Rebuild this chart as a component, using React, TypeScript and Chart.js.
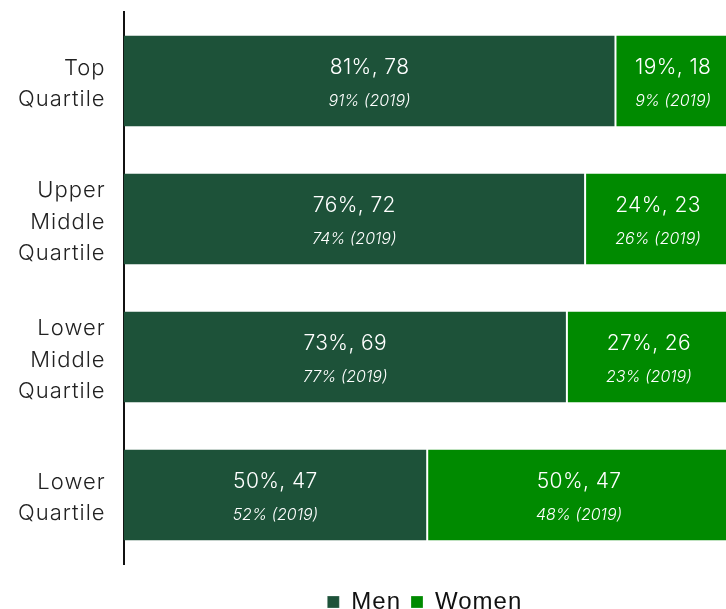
import React, { useEffect, useRef } from "react";
import { Chart, registerables } from "chart.js";

Chart.register(...registerables);

const categories: string[][] = [
  ["Top", "Quartile"],
  ["Upper", "Middle", "Quartile"],
  ["Lower", "Middle", "Quartile"],
  ["Lower", "Quartile"],
];
const menPct = [81, 76, 73, 50];
const womenPct = [19, 24, 27, 50];
const menCount = [78, 72, 69, 47];
const womenCount = [18, 23, 26, 47];
const men2019 = [91, 74, 77, 52];
const women2019 = [9, 26, 23, 48];

const MEN_COLOR = "#1d5239";
const WOMEN_COLOR = "#008a00";
const LABEL_FONT = "Inter";

const spacingPlugin = {
  id: "spacing",
  beforeLayout(chart: any) {
    chart.ctx.letterSpacing = "1px";
  },
  beforeDraw(chart: any) {
    chart.ctx.letterSpacing = "1px";
  },
  beforeDatasetsDraw(chart: any) {
    chart.ctx.letterSpacing = "0px";
  },
};

const labelPlugin = {
  id: "barLabels",
  afterDatasetsDraw(chart: any) {
    const ctx = chart.ctx;
    const sets = [
      { pct: menPct, cnt: menCount, old: men2019 },
      { pct: womenPct, cnt: womenCount, old: women2019 },
    ];
    sets.forEach((s, di) => {
      const meta = chart.getDatasetMeta(di);
      meta.data.forEach((bar: any, i: number) => {
        const left = Math.min(bar.base, bar.x);
        const right = Math.min(Math.max(bar.base, bar.x), chart.width + 5);
        const cx = (left + right) / 2;
        ctx.save();
        ctx.fillStyle = "#ffffff";
        ctx.textAlign = "center";
        ctx.textBaseline = "middle";
        ctx.letterSpacing = "0.4px";
        ctx.font = `300 21px ${LABEL_FONT}`;
        ctx.fillText(`${s.pct[i]}%, ${s.cnt[i]}`, cx, bar.y - 13);
        ctx.letterSpacing = "0px";
        ctx.font = `italic 300 16px ${LABEL_FONT}`;
        ctx.fillText(`${s.old[i]}% (2019)`, cx, bar.y + 20);
        ctx.restore();
      });
    });
  },
};

export default function App() {
  const ref = useRef<HTMLCanvasElement | null>(null);
  useEffect(() => {
    document.body.style.margin = "0";
    const chart = new Chart(ref.current as HTMLCanvasElement, {
      type: "bar",
      data: {
        labels: categories,
        datasets: [
          {
            label: "Men",
            data: menPct,
            backgroundColor: MEN_COLOR,
            borderColor: "#ffffff",
            borderWidth: { top: 0, bottom: 0, left: 0, right: 1 },
            borderSkipped: false,
            barPercentage: 0.66,
            categoryPercentage: 1,
          },
          {
            label: "Women",
            data: womenPct,
            backgroundColor: WOMEN_COLOR,
            borderColor: "#ffffff",
            borderWidth: { top: 0, bottom: 0, left: 1, right: 0 },
            borderSkipped: false,
            barPercentage: 0.66,
            categoryPercentage: 1,
          },
        ],
      },
      options: {
        indexAxis: "y",
        animation: false,
        responsive: false,
        layout: { padding: { top: 12, left: 0, right: 0, bottom: -15 } },
        scales: {
          x: {
            stacked: true,
            display: false,
            min: 0,
            max: 99.2,
          },
          y: {
            stacked: true,
            grid: { display: false, drawTicks: false },
            border: { display: true, color: "#111111", width: 2 },
            afterFit(scale: any) {
              scale.paddingTop = 0;
              scale.paddingBottom = 0;
            },
            ticks: {
              color: "#222222",
              padding: 18,
              labelOffset: 3,
              font: { family: LABEL_FONT, size: 22, weight: "300", lineHeight: 1.42 },
            },
          },
        },
        plugins: {
          legend: {
            position: "bottom",
            fullSize: false,
            title: { display: true, text: "", padding: { top: 15, bottom: 0 }, font: { size: 1, lineHeight: 1 } },
            labels: {
              color: "#111111",
              boxWidth: 12,
              boxHeight: 12,
              padding: 10,
              font: { family: "Liberation Sans", size: 24 },
            },
          },
          tooltip: { enabled: false },
        },
      },
      plugins: [spacingPlugin, labelPlugin],
    });
    return () => chart.destroy();
  }, []);
  return (
    <div style={{ position: "absolute", left: 0, top: 0, width: 726, height: 609, overflow: "hidden" }}>
      <canvas ref={ref} width={726} height={609} />
    </div>
  );
}
